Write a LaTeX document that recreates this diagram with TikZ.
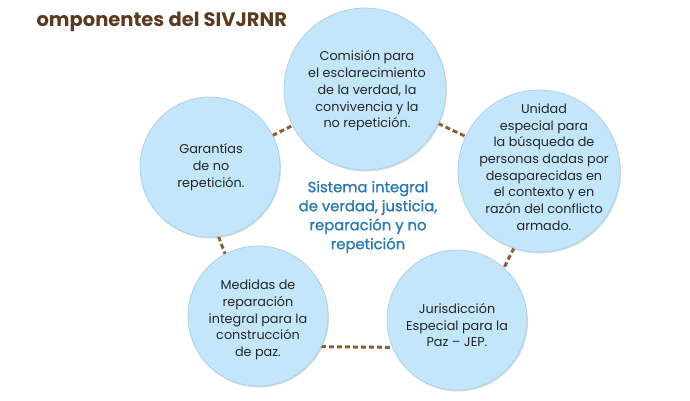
\documentclass[tikz,border=0pt]{standalone}
\usepackage{fontspec}
\setmainfont{Poppins}
\newfontfamily\medio[FakeBold=1.3]{Poppins}
\usetikzlibrary{shadows,backgrounds}
\definecolor{celeste}{HTML}{C4E6FA}
\definecolor{borde}{HTML}{A8D0E8}
\definecolor{cafe}{HTML}{8C5E34}
\definecolor{titulo}{HTML}{5A3B20}
\definecolor{azul}{HTML}{2B7AB1}
\tikzset{
  comp/.style={circle, fill=celeste, draw=borde, line width=0.7pt, inner sep=0pt, outer sep=0pt,
    minimum size=#1, drop shadow={shadow xshift=1pt, shadow yshift=-1.5pt, fill=borde!70!black, opacity=0.3}},
  texto/.style={align=center, font=\fontsize{12.8}{16.7}\selectfont, text=black!85},
  enlace/.style={draw=cafe, line width=3pt, dash pattern=on 5pt off 3pt}
}
\begin{document}
\begin{tikzpicture}[x=1pt,y=-1pt]
  \useasboundingbox (0,0) rectangle (690,400);
  \node[anchor=west, font=\fontsize{19.5}{22}\selectfont\bfseries, text=titulo] (tit) at (33,22) {omponentes del SIVJRNR};
  % componentes
  \node[comp=162pt] (com) at (365,89) {};
  \node[comp=162pt] (uni) at (539,171) {};
  \node[comp=140pt] (jep) at (457,320) {};
  \node[comp=140pt] (med) at (258,316) {};
  \node[comp=140pt] (gar) at (210,167) {};
  % enlaces punteados
  \begin{pgfonlayer}{background}
    \draw[enlace] (gar) -- (com);
    \draw[enlace] (com) -- (uni);
    \draw[enlace] (uni.-108) -- (jep.48);
    \draw[enlace] (med.-26) -- (jep.-157);
    \draw[enlace] (gar.-83) -- (med.118);
  \end{pgfonlayer}
  % textos
  \node[texto] (t-com) at (367,91) {Comisión para\\el esclarecimiento\\de la verdad, la\\convivencia y la\\no repetición.};
  \node[texto] (t-uni) at (544,167) {Unidad\\especial para\\la búsqueda de\\personas dadas por\\desaparecidas en\\el contexto y en\\razón del conflicto\\armado.};
  \node[texto] (t-gar) at (211,167) {Garantías\\de no\\repetición.};
  \node[texto] (t-med) at (258,320) {Medidas de\\reparación\\integral para la\\construcción\\de paz.};
  \node[texto] (t-jep) at (457,325) {Jurisdicción\\Especial para la\\Paz – JEP.};
  \node[align=center, text=azul, font=\fontsize{14.8}{19}\selectfont\medio] (sis) at (368,217) {Sistema integral\\de verdad, justicia,\\reparación y no\\repetición};
\end{tikzpicture}
\end{document}
